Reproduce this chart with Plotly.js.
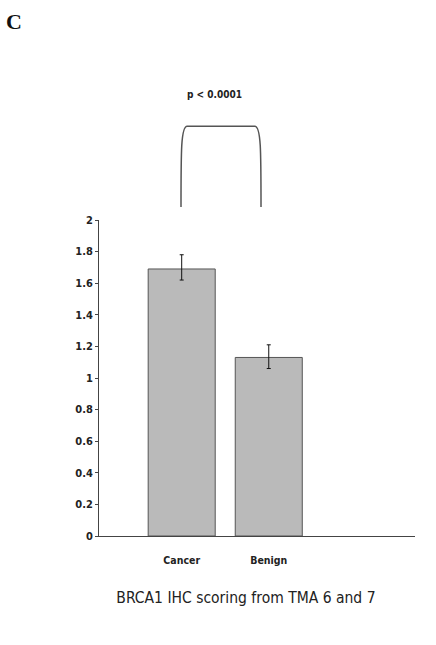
<!DOCTYPE html>
<html>
<head>
<meta charset="utf-8">
<script src="https://cdn.plot.ly/plotly-3.0.1.min.js"></script>
<style>
  html, body { margin: 0; padding: 0; background: #fff; }
  #plot { width: 436px; height: 645px; }
</style>
</head>
<body>
<div id="plot"></div>
<script>
var groups = ['Cancer', 'Benign'];
var scores = [1.69, 1.13];
var errPlus = [0.09, 0.08];
var errMinus = [0.07, 0.07];
var yTicks = [0, 0.2, 0.4, 0.6, 0.8, 1, 1.2, 1.4, 1.6, 1.8, 2];
var yTickText = ['0', '0.2', '0.4', '0.6', '0.8', '1', '1.2', '1.4', '1.6', '1.8', '2'];

var narrow = '"Liberation Sans Narrow", "Arial Narrow", "DejaVu Sans Condensed", "Liberation Sans", Arial, sans-serif';

var bars = {
  x: groups,
  y: scores,
  type: 'bar',
  width: 0.77,
  marker: { color: '#bababa', line: { color: '#555555', width: 1 } },
  error_y: {
    type: 'data',
    symmetric: false,
    array: errPlus,
    arrayminus: errMinus,
    color: '#111111',
    thickness: 1,
    width: 2
  },
  hoverinfo: 'none'
};

var layout = {
  width: 436,
  height: 645,
  margin: { l: 99, r: 21, t: 220, b: 109 },
  paper_bgcolor: '#ffffff',
  plot_bgcolor: '#ffffff',
  showlegend: false,
  title: {
    text: 'BRCA1 IHC scoring from TMA 6 and 7',
    font: { family: narrow, size: 15.5, color: '#222222' },
    xref: 'paper',
    x: 0.465,
    xanchor: 'center',
    yref: 'container',
    y: 0.073,
    yanchor: 'middle'
  },
  xaxis: {
    type: 'category',
    range: [-0.95, 2.68],
    showline: true,
    linecolor: '#444444',
    linewidth: 1,
    showgrid: false,
    zeroline: false,
    ticks: '',
    ticklabelstandoff: 14,
    tickfont: { family: narrow, size: 10.5, color: '#222222', weight: 'bold' }
  },
  yaxis: {
    range: [0, 2],
    tickvals: yTicks,
    ticktext: yTickText,
    showline: true,
    linecolor: '#444444',
    linewidth: 1,
    showgrid: false,
    zeroline: false,
    ticks: 'outside',
    ticklen: 3,
    tickcolor: '#444444',
    tickfont: { family: narrow, size: 11, color: '#222222', weight: 'bold' }
  },
  shapes: [{
    type: 'path',
    xref: 'paper',
    yref: 'paper',
    path: 'M 0.2595 1.041 C 0.2595 1.22, 0.2595 1.297, 0.279 1.297 L 0.493 1.297 C 0.5127 1.297, 0.5127 1.22, 0.5127 1.041',
    line: { color: '#555555', width: 1.5 }
  }],
  annotations: [{
    text: 'p < 0.0001',
    xref: 'paper',
    yref: 'paper',
    x: 0.364,
    y: 1.421,
    showarrow: false,
    font: { family: narrow, size: 10, color: '#222222', weight: 'bold' }
  }, {
    text: 'C',
    xref: 'paper',
    yref: 'paper',
    x: -0.30,
    y: 1.673,
    xanchor: 'left',
    showarrow: false,
    font: { family: '"Liberation Serif", "Times New Roman", serif', size: 22, color: '#111111', weight: 'bold' }
  }]
};

Plotly.newPlot('plot', [bars], layout, { staticPlot: true });
</script>
</body>
</html>
